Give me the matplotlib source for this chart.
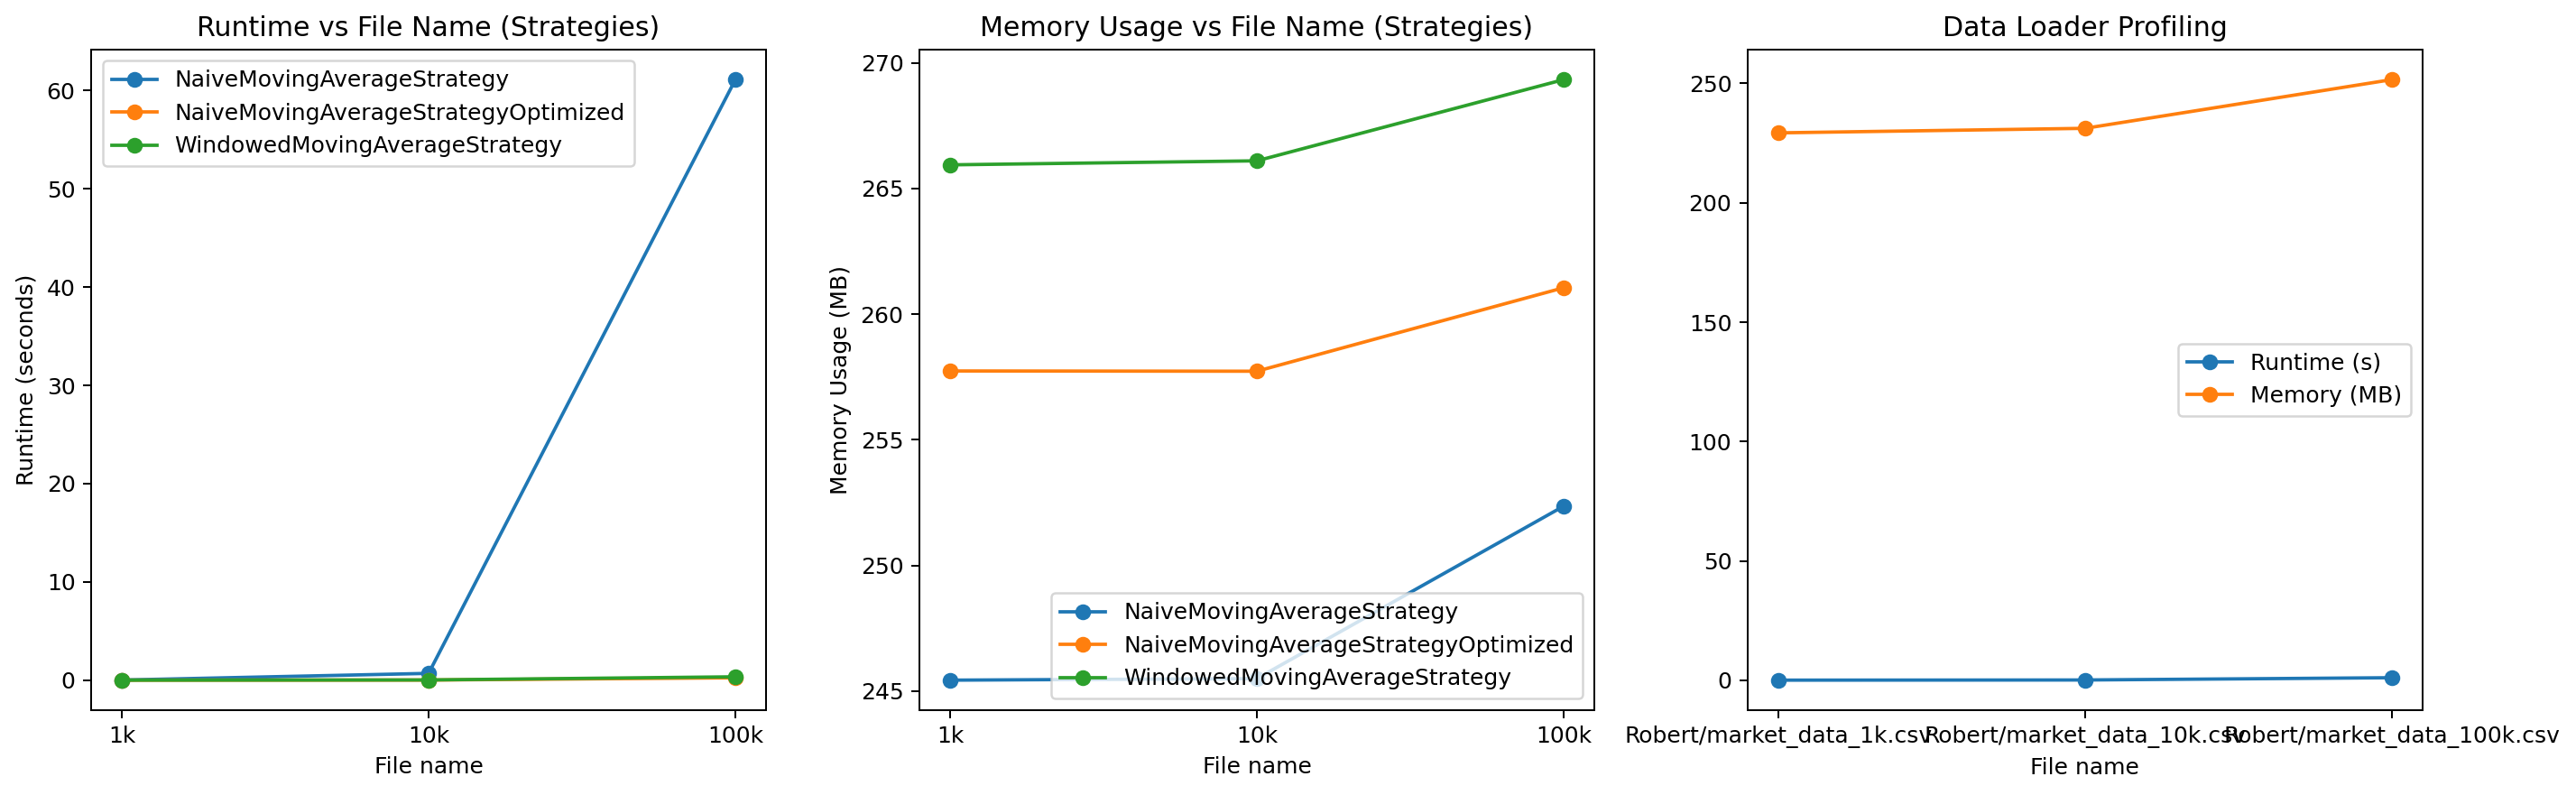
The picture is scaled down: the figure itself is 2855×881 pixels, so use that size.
import matplotlib
matplotlib.use("Agg")
import matplotlib.pyplot as plt

sizes = ["1k", "10k", "100k"]
files = ["Robert/market_data_1k.csv", "Robert/market_data_10k.csv", "Robert/market_data_100k.csv"]

strategies = ["NaiveMovingAverageStrategy", "NaiveMovingAverageStrategyOptimized", "WindowedMovingAverageStrategy"]

# runtime in seconds
runtime_naive = [0.02, 0.7, 61.1]
runtime_opt = [0.01, 0.02, 0.25]
runtime_win = [0.01, 0.03, 0.35]

# memory in MB
memory_naive = [245.44, 245.5, 252.36]
memory_opt = [257.74, 257.73, 261.05]
memory_win = [265.94, 266.1, 269.33]

# data loader
loader_runtime = [0.03, 0.1, 1.05]
loader_memory = [229.3, 231.2, 251.6]

dpi = 180
fig = plt.figure(figsize=(2855 / dpi, 881 / dpi), dpi=dpi)
w, h, b = 0.2620, 0.8309, 0.1067
ax1 = fig.add_axes([0.03538, b, w, h])
ax2 = fig.add_axes([0.3569, b, w, h])
ax3 = fig.add_axes([0.6784, b, w, h])

for name, vals in zip(strategies, [runtime_naive, runtime_opt, runtime_win]):
    ax1.plot(sizes, vals, marker="o", label=name)
ax1.set_title("Runtime vs File Name (Strategies)")
ax1.set_xlabel("File name")
ax1.set_ylabel("Runtime (seconds)")
ax1.legend(loc="upper left")

for name, vals in zip(strategies, [memory_naive, memory_opt, memory_win]):
    ax2.plot(sizes, vals, marker="o", label=name)
ax2.set_title("Memory Usage vs File Name (Strategies)")
ax2.set_xlabel("File name")
ax2.set_ylabel("Memory Usage (MB)")
ax2.legend(loc="lower right")

ax3.plot(files, loader_runtime, marker="o", label="Runtime (s)")
ax3.plot(files, loader_memory, marker="o", label="Memory (MB)")
ax3.set_title("Data Loader Profiling")
ax3.set_xlabel("File name")
ax3.legend(loc="center right")

fig.savefig("out.png", dpi=dpi)
